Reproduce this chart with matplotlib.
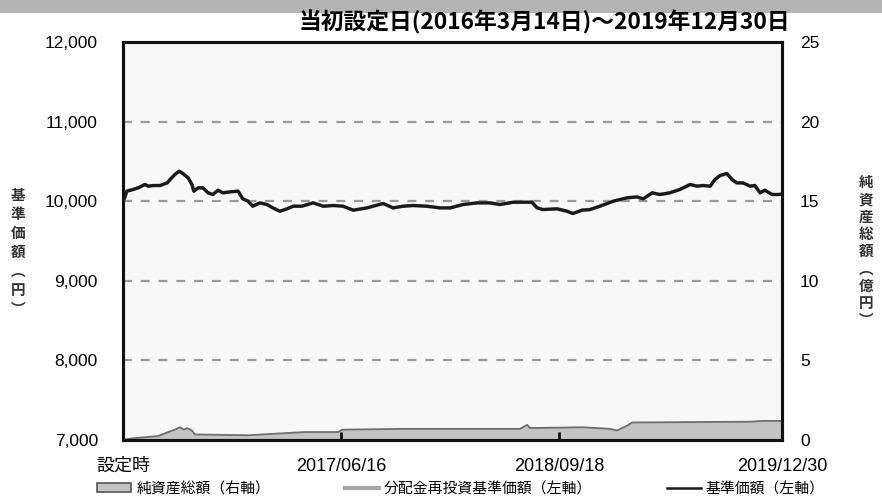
import matplotlib
matplotlib.use("Agg")
import matplotlib.pyplot as plt
from matplotlib import font_manager
from matplotlib.patches import Rectangle, Patch
from matplotlib.lines import Line2D
import pandas as pd

# ---- data ----
nav_dates = ["2016-03-14", "2016-03-18", "2016-03-22", "2016-04-04", "2016-04-15", "2016-04-29",
             "2016-05-06", "2016-05-16", "2016-05-31", "2016-06-15", "2016-06-21", "2016-07-01",
             "2016-07-10", "2016-07-18", "2016-07-29", "2016-08-06", "2016-08-10", "2016-08-19",
             "2016-08-29", "2016-09-09", "2016-09-19", "2016-09-30", "2016-10-10", "2016-10-25",
             "2016-11-11", "2016-11-21", "2016-12-02", "2016-12-12", "2016-12-27", "2017-01-11",
             "2017-01-23", "2017-02-07", "2017-02-22", "2017-03-07", "2017-03-25", "2017-04-18",
             "2017-05-09", "2017-05-30", "2017-06-20", "2017-07-11", "2017-08-09", "2017-09-12",
             "2017-10-03", "2017-10-24", "2017-11-14", "2017-12-13", "2018-01-10", "2018-01-31",
             "2018-02-27", "2018-03-29", "2018-04-25", "2018-05-16", "2018-06-12", "2018-07-22",
             "2018-08-02", "2018-08-14", "2018-09-13", "2018-10-04", "2018-10-16", "2018-11-04",
             "2018-11-21", "2018-12-12", "2019-01-09", "2019-02-07", "2019-02-28", "2019-03-13",
             "2019-04-01", "2019-04-17", "2019-05-08", "2019-05-29", "2019-06-20", "2019-07-04",
             "2019-07-17", "2019-08-01", "2019-08-11", "2019-08-22", "2019-09-05", "2019-09-16",
             "2019-09-26", "2019-10-09", "2019-10-24", "2019-11-03", "2019-11-14", "2019-11-24",
             "2019-12-09", "2019-12-22", "2019-12-30"]
nav_values = [10000, 10050, 10126, 10147, 10168, 10210,
              10189, 10197, 10197, 10230, 10272, 10335,
              10377, 10348, 10293, 10210, 10126, 10168,
              10168, 10105, 10084, 10138, 10105, 10117,
              10126, 10029, 10000, 9937, 9979, 9958,
              9916, 9874, 9904, 9937, 9937, 9979,
              9937, 9946, 9937, 9887, 9916, 9971,
              9916, 9937, 9946, 9937, 9916, 9916,
              9958, 9979, 9979, 9958, 9987, 9987,
              9916, 9895, 9904, 9874, 9845, 9887,
              9895, 9937, 10000, 10042, 10054, 10029,
              10105, 10084, 10105, 10147, 10210, 10189,
              10197, 10189, 10272, 10323, 10348, 10272,
              10230, 10230, 10189, 10197, 10105, 10138,
              10084, 10084, 10090]
reinvest_values = nav_values  # no distributions: identical to NAV

aum_dates = ["2016-03-14", "2016-04-02", "2016-05-27", "2016-06-17", "2016-07-01", "2016-07-12",
             "2016-07-20", "2016-07-27", "2016-08-06", "2016-08-12", "2016-12-02", "2017-04-01",
             "2017-06-09", "2017-06-18", "2017-10-28", "2018-02-10", "2018-06-27", "2018-07-12",
             "2018-07-18", "2018-11-06", "2019-01-02", "2019-01-17", "2019-02-07", "2019-02-18",
             "2019-10-24", "2019-11-20", "2019-12-30"]
aum_values = [0.02, 0.1, 0.25, 0.5, 0.65, 0.8,
              0.65, 0.75, 0.6, 0.35, 0.3, 0.5,
              0.5, 0.65, 0.7, 0.7, 0.7, 0.95,
              0.75, 0.8, 0.7, 0.6, 0.9, 1.1,
              1.15, 1.2, 1.2]

tick_dates = ["2016-03-14", "2017-06-16", "2018-09-18", "2019-12-30"]
tick_labels = ["設定時", "2017/06/16", "2018/09/18", "2019/12/30"]
left_ticks = [7000, 8000, 9000, 10000, 11000, 12000]
left_labels = ["7,000", "8,000", "9,000", "10,000", "11,000", "12,000"]
right_ticks = [0, 5, 10, 15, 20, 25]
right_labels = ["0", "5", "10", "15", "20", "25"]

title = "当初設定日(2016年3月14日)～2019年12月30日"
left_label_chars = ["基", "準", "価", "額", "︵", "円", "︶"]
right_label_chars = ["純", "資", "産", "総", "額", "︵", "億", "円", "︶"]
legend_labels = ["純資産総額（右軸）", "分配金再投資基準価額（左軸）", "基準価額（左軸）"]

# ---- fonts ----
avail = {f.name for f in font_manager.fontManager.ttflist}
jp = ["Noto Sans CJK JP", "DejaVu Sans"]
num_font = "Liberation Sans Narrow" if "Liberation Sans Narrow" in avail else "Liberation Sans"
num = [num_font, "Noto Sans CJK JP", "DejaVu Sans"]
plt.rcParams["font.family"] = jp

nd = pd.to_datetime(nav_dates)
ad = pd.to_datetime(aum_dates)
td = pd.to_datetime(tick_dates)

fig = plt.figure(figsize=(8.82, 4.98), dpi=100)
fig.patch.set_facecolor("white")
fig.patches.append(Rectangle((0, 1 - 13 / 498), 1, 13 / 498, transform=fig.transFigure,
                             facecolor="#b4b4b4", edgecolor="none", zorder=0))

ax = fig.add_axes([123 / 882, 58 / 498, 659 / 882, 398 / 498])
ax2 = ax.twinx()
ax.set_zorder(ax2.get_zorder() + 1)
ax.patch.set_visible(False)
ax2.patch.set_visible(True)
ax2.patch.set_facecolor("#f8f8f8")

# AUM area on right axis
ax2.fill_between(ad, aum_values, 0, facecolor="#c4c4c4", edgecolor="none", zorder=1)
ax2.plot(ad, aum_values, color="#6e6e6e", lw=1.3, zorder=2)
ax2.set_ylim(0, 25)
ax2.set_yticks(right_ticks)
ax2.set_yticklabels(right_labels, fontfamily=num, fontsize=12.5)
ax2.tick_params(axis="y", length=0, pad=13)

# NAV lines on left axis
for v in left_ticks[1:-1]:
    ax.axhline(v, color="#9a9a9a", lw=1.6, ls=(0, (4, 4)), zorder=1)
ax.plot(nd, reinvest_values, color="#a8a8a8", lw=2.6, zorder=2)
ax.plot(nd, nav_values, color="#1a1a1a", lw=2.3, zorder=3)
ax.set_ylim(7000, 12000)
ax.set_xlim(td[0], td[-1])
ax.set_yticks(left_ticks)
ax.set_yticklabels(left_labels, fontfamily=num, fontsize=12.5)
ax.tick_params(axis="y", length=0, pad=18)
ax.set_xticks(td)
ax.set_xticklabels(tick_labels, fontfamily=num, fontsize=13)
ax.tick_params(axis="x", direction="in", length=6, width=2, pad=13, color="#111111")

for a in (ax, ax2):
    for s in a.spines.values():
        s.set_linewidth(2.2)
        s.set_color("#111111")
ax2.tick_params(axis="x", length=0)

fig.text(790 / 882, 1 - 22 / 498, title, ha="right", va="center", fontsize=16.4,
         fontweight="bold", family=jp)

fig.text(18 / 882, 1 - 252 / 498, "\n".join(left_label_chars),
         ha="center", va="center", fontsize=10.5, fontweight="bold", linespacing=1.22, family=jp,
         color="#333333")
fig.text(866 / 882, 1 - 251 / 498, "\n".join(right_label_chars),
         ha="center", va="center", fontsize=10.5, fontweight="bold", linespacing=1.1, family=jp,
         color="#333333")

handles = [Patch(facecolor="#c4c4c4", edgecolor="#555555", lw=1.2),
           Line2D([], [], color="#a8a8a8", lw=3),
           Line2D([], [], color="#1a1a1a", lw=1.8)]
fig.legend(handles, legend_labels, loc="center left", bbox_to_anchor=(97 / 882, 1 - 489 / 498),
           ncol=3, frameon=False, fontsize=10.7, handlelength=2.3, handleheight=0.55,
           handletextpad=0.35, columnspacing=5.0, borderaxespad=0, borderpad=0)

fig.savefig("out.png", dpi=100)
